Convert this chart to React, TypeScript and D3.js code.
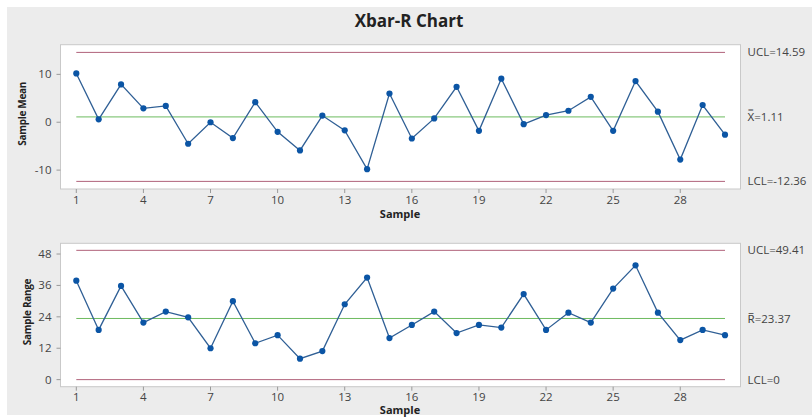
import React from "react";
import * as d3 from "d3";

const samples = d3.range(1, 31);
const meanValues = [10.2, 0.6, 7.9, 2.9, 3.4, -4.5, 0.0, -3.3, 4.2, -2.0, -5.9, 1.4, -1.7, -9.8, 6.0, -3.4, 0.8, 7.4, -1.8, 9.1, -0.4, 1.5, 2.4, 5.3, -1.8, 8.6, 2.2, -7.8, 3.6, -2.6];
const rangeValues = [37.8, 19.0, 35.8, 21.8, 26.0, 23.8, 12.0, 30.0, 13.9, 17.0, 8.0, 10.9, 28.8, 39.0, 15.9, 20.9, 26.0, 17.8, 20.9, 19.9, 32.7, 19.0, 25.6, 21.8, 34.8, 43.7, 25.6, 15.1, 19.0, 17.0];
const xTicks = [1, 4, 7, 10, 13, 16, 19, 22, 25, 28];
const meanTicks = [-10, 0, 10];
const rangeTicks = [0, 12, 24, 36, 48];
const meanLimits = { ucl: 14.59, cl: 1.11, lcl: -12.36 };
const rangeLimits = { ucl: 49.41, cl: 23.37, lcl: 0 };
const meanLabels = ["UCL=14.59", "X\u033F=1.11", "LCL=-12.36"];
const rangeLabels = ["UCL=49.41", "R\u0305=23.37", "LCL=0"];

const W = 812, H = 417;
const FONT = "'Open Sans', 'Noto Sans', sans-serif";
const panelL = 60.5, panelR = 740.5;
const x = d3.scaleLinear().domain([1, 30]).range([76.3, 725]);

type PanelProps = {
  top: number; bottom: number; domain: [number, number]; values: number[]; ticks: number[];
  limits: { ucl: number; cl: number; lcl: number }; labels: string[]; yTitle: string; yTitleX: number; xTitleOffset: number;
};

function Panel({ top, bottom, domain, values, ticks, limits, labels, yTitle, yTitleX, xTitleOffset }: PanelProps) {
  const y = d3.scaleLinear().domain(domain).range([bottom, top]);
  const line = d3.line<number>().x((_, i) => x(samples[i])).y((d) => y(d));
  const limitLines = [limits.ucl, limits.cl, limits.lcl];
  const limitColors = ["#b0627a", "#6dbb5f", "#b0627a"];
  return (
    <g>
      <rect x={panelL} y={top} width={panelR - panelL} height={bottom - top} fill="#ffffff" stroke="#c9c9c9" strokeWidth={1} />
      {limitLines.map((v, i) => (
        <line key={i} x1={x(1)} x2={x(30)} y1={y(v)} y2={y(v)} stroke={limitColors[i]} strokeWidth={1} />
      ))}
      <path d={line(values) || ""} fill="none" stroke="#2f5f95" strokeWidth={1.3} />
      {values.map((v, i) => (
        <circle key={i} cx={x(samples[i])} cy={y(v)} r={3.1} fill="#0b55a5" />
      ))}
      {ticks.map((t) => (
        <g key={t}>
          <line x1={panelL - 4} x2={panelL} y1={y(t)} y2={y(t)} stroke="#999" />
          <text x={panelL - 9} y={y(t)} dy="0.35em" textAnchor="end" fontSize={11.5} fill="#444" fontFamily={FONT}>{t}</text>
        </g>
      ))}
      {xTicks.map((t) => (
        <g key={t}>
          <line x1={x(t)} x2={x(t)} y1={bottom} y2={bottom + 4} stroke="#999" />
          <text x={x(t)} y={bottom + 10.5} dy="0.35em" textAnchor="middle" fontSize={11.5} fill="#444" fontFamily={FONT}>{t}</text>
        </g>
      ))}
      <text x={400} y={bottom + xTitleOffset} dy="0.35em" textAnchor="middle" fontSize={11} fontWeight="bold" fill="#222" fontFamily={FONT}>Sample</text>
      <text transform={`translate(${yTitleX},${(top + bottom) / 2 - 3}) rotate(-90)`} textAnchor="middle" fontSize={10} fontWeight="bold" fill="#222" fontFamily={FONT} letterSpacing={-0.3}>{yTitle}</text>
      {limitLines.map((v, i) => (
        <text key={i} x={747.5} y={y(v)} dy="0.35em" fontSize={11.5} fill="#444" fontFamily={FONT}>{labels[i]}</text>
      ))}
    </g>
  );
}

export default function App() {
  return (
    <svg width={W} height={H} style={{ position: "absolute", left: 0, top: 0, display: "block" }}>
      <rect x={0} y={0} width={W} height={H} fill="#ffffff" />
      <rect x={7} y={7} width={W - 7} height={408} fill="#ececec" />
      <text x={409} y={27} textAnchor="middle" fontSize={17} fontWeight="bold" fill="#222" fontFamily={FONT}>Xbar-R Chart</text>
      <Panel top={44.7} bottom={189} domain={[-13.95, 16.2]} values={meanValues} ticks={meanTicks} limits={meanLimits} labels={meanLabels} yTitle="Sample Mean" yTitleX={26} xTitleOffset={25} />
      <Panel top={243.3} bottom={386.7} domain={[-2.7, 52.1]} values={rangeValues} ticks={rangeTicks} limits={rangeLimits} labels={rangeLabels} yTitle="Sample Range" yTitleX={31} xTitleOffset={23} />
    </svg>
  );
}
